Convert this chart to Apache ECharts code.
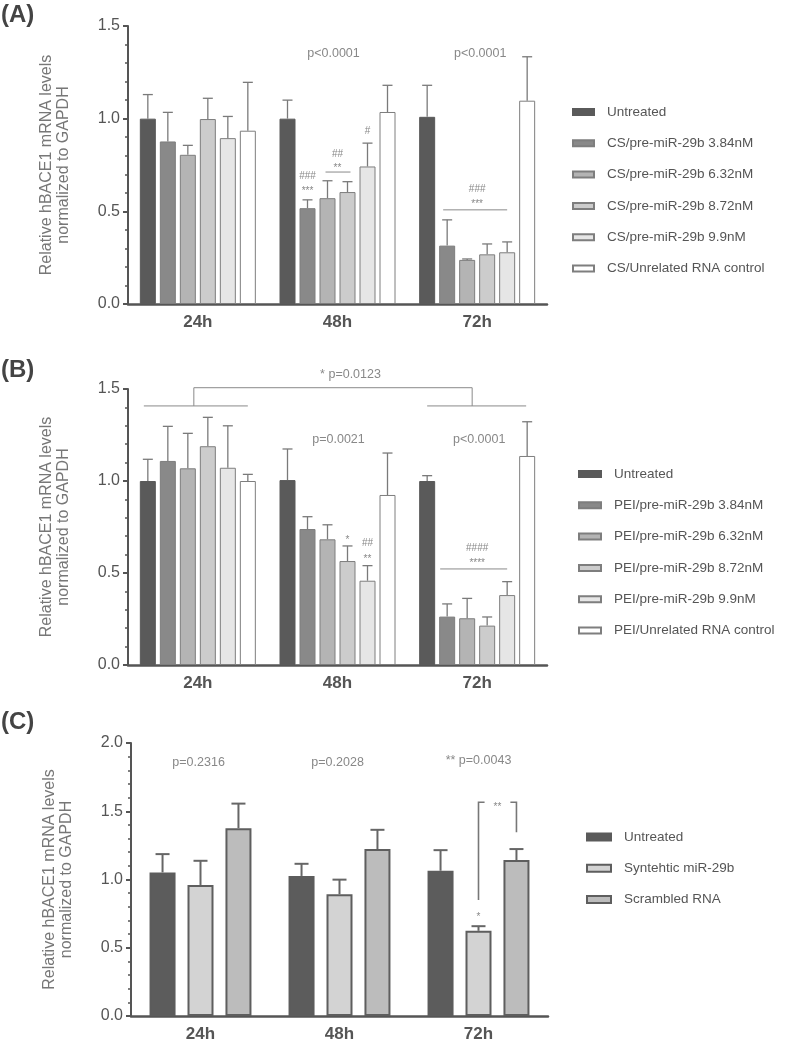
<!DOCTYPE html>
<html>
<head>
<meta charset="utf-8">
<script src="https://cdn.jsdelivr.net/npm/echarts@6/dist/echarts.min.js"></script>
<style>
  html, body { margin: 0; padding: 0; background: #fff; }
  #main { width: 787px; height: 1043px; }
</style>
</head>
<body>
<div id="main"></div>
<script>
// categories shared by all three panels
const categories = ['24h', '48h', '72h'];

// panel A - CS nanoparticles
const namesA = ['Untreated', 'CS/pre-miR-29b 3.84nM', 'CS/pre-miR-29b 6.32nM',
  'CS/pre-miR-29b 8.72nM', 'CS/pre-miR-29b 9.9nM', 'CS/Unrelated RNA control'];
const meanA = [
  [1.00, 1.00, 1.01],
  [0.877, 0.517, 0.315],
  [0.805, 0.571, 0.238],
  [0.998, 0.604, 0.268],
  [0.895, 0.742, 0.279],
  [0.935, 1.036, 1.097]
];
const sdA = [
  [0.13, 0.10, 0.17],
  [0.157, 0.045, 0.139],
  [0.051, 0.094, 0.005],
  [0.112, 0.056, 0.056],
  [0.117, 0.126, 0.056],
  [0.261, 0.144, 0.237]
];

// panel B - PEI
const namesB = ['Untreated', 'PEI/pre-miR-29b 3.84nM', 'PEI/pre-miR-29b 6.32nM',
  'PEI/pre-miR-29b 8.72nM', 'PEI/pre-miR-29b 9.9nM', 'PEI/Unrelated RNA control'];
const meanB = [
  [1.00, 1.005, 1.00],
  [1.109, 0.739, 0.263],
  [1.069, 0.683, 0.254],
  [1.189, 0.565, 0.214],
  [1.072, 0.458, 0.38],
  [1.00, 0.924, 1.136]
];
const sdB = [
  [0.118, 0.169, 0.029],
  [0.188, 0.067, 0.069],
  [0.19, 0.079, 0.108],
  [0.157, 0.082, 0.047],
  [0.228, 0.082, 0.073],
  [0.036, 0.228, 0.186]
];

// panel C - synthetic miRNA
const namesC = ['Untreated', 'Syntehtic miR-29b', 'Scrambled RNA'];
const meanC = [
  [1.052, 1.026, 1.064],
  [0.96, 0.892, 0.624],
  [1.376, 1.223, 1.142]
];
const sdC = [
  [0.134, 0.089, 0.151],
  [0.177, 0.107, 0.034],
  [0.18, 0.141, 0.081]
];

// annotation texts / lines: c = category, s = bar slot, v = y value
const notesA = [
  { t: 'p<0.0001', c: 1, s: 2.3, v: 1.35 },
  { t: 'p<0.0001', c: 2, s: 2.65, v: 1.35 },
  { t: '###', c: 1, s: 1, v: 0.69, k: 'small' },
  { t: '***', c: 1, s: 1, v: 0.61, k: 'small' },
  { t: '##', c: 1, s: 2.5, v: 0.81, k: 'small' },
  { t: '**', c: 1, s: 2.5, v: 0.735, k: 'small' },
  { t: '#', c: 1, s: 4, v: 0.93, k: 'small' },
  { t: '###', c: 2, s: 2.5, v: 0.62, k: 'small' },
  { t: '***', c: 2, s: 2.5, v: 0.54, k: 'small' }
];
const linesA = [
  [[1, 1.9, 0.712], [1, 3.15, 0.712]],
  [[2, 0.8, 0.508], [2, 4, 0.508]]
];
const notesB = [
  { t: '* p=0.0123', c: 1, s: 3.15, v: 1.576 },
  { t: 'p=0.0021', c: 1, s: 2.55, v: 1.223 },
  { t: 'p<0.0001', c: 2, s: 2.6, v: 1.223 },
  { t: '*', c: 1, s: 3, v: 0.68, k: 'small' },
  { t: '##', c: 1, s: 4, v: 0.663, k: 'small' },
  { t: '**', c: 1, s: 4, v: 0.575, k: 'small' },
  { t: '####', c: 2, s: 2.5, v: 0.636, k: 'small' },
  { t: '****', c: 2, s: 2.5, v: 0.553, k: 'small' }
];
const linesB = [
  [[0, -0.2, 1.408], [0, 5, 1.408]],
  [[2, 0, 1.408], [2, 4.95, 1.408]],
  [[0, 2.3, 1.408], [0, 2.3, 1.507], [2, 2.25, 1.507], [2, 2.25, 1.408]],
  [[2, 0.65, 0.522], [2, 4, 0.522]]
];
const notesC = [
  { t: 'p=0.2316', c: 0, s: 0.95, v: 1.858 },
  { t: 'p=0.2028', c: 1, s: 0.95, v: 1.858 },
  { t: '** p=0.0043', c: 2, s: 1, v: 1.872 },
  { t: '**', c: 2, s: 1.5, v: 1.53, k: 'small' },
  { t: '*', c: 2, s: 1, v: 0.72, k: 'small' }
];
const linesC = [
  [[2, 1.16, 1.566], [2, 1, 1.566], [2, 1, 0.85]],
  [[2, 1.84, 1.566], [2, 2, 1.566], [2, 2, 1.347]]
];

const colorsAB = ['#5a5a5a', '#898989', '#b4b4b4', '#cccccc', '#e6e6e6', '#ffffff'];
const colorsC = ['#5c5c5c', '#d3d3d3', '#bcbcbc'];

const panels = [
  { names: namesA, mean: meanA, sd: sdA, colors: colorsAB, max: 1.5,
    grid: { left: 128, top: 26, width: 419, height: 278 },
    barWidth: 16, gap: 0.25, border: '#7e7e7e', bw: 1, err: '#7a7a7a', ew: 1.3, cap: 5,
    legend: { left: 567, top: 100, w: 21, h: 6 }, notes: notesA, lines: linesA, label: '(A)', labelTop: 3 },
  { names: namesB, mean: meanB, sd: sdB, colors: colorsAB, max: 1.5,
    grid: { left: 128, top: 389, width: 419, height: 276 },
    barWidth: 16, gap: 0.25, border: '#7e7e7e', bw: 1, err: '#7a7a7a', ew: 1.3, cap: 5,
    legend: { left: 573, top: 462, w: 22, h: 6 }, notes: notesB, lines: linesB, label: '(B)', labelTop: 358 },
  { names: namesC, mean: meanC, sd: sdC, colors: colorsC, max: 2.0,
    grid: { left: 131, top: 743, width: 417, height: 274.5 },
    barWidth: 26, gap: 0.46, border: '#5e5e5e', bw: 2, err: '#666666', ew: 2, cap: 7,
    legend: { left: 581, top: 825, w: 24, h: 7 }, notes: notesC, lines: linesC, label: '(C)', labelTop: 710 }
];

const font = '"Liberation Sans", Arial, sans-serif';
const axisColor = '#555555';

let chart = echarts.init(document.getElementById('main'));

let grids = [], xAxes = [], yAxes = [], series = [], legends = [];

panels.forEach(function (p, g) {
  grids.push(p.grid);
  xAxes.push({
    type: 'category', gridIndex: g, data: categories,
    axisLine: { lineStyle: { color: axisColor, width: 2.5 } },
    axisTick: { alignWithLabel: true, length: 5, lineStyle: { color: axisColor, width: 2 } },
    axisLabel: { fontFamily: font, fontWeight: 'bold', fontSize: 17, color: axisColor, margin: 10 }
  });
  yAxes.push({
    type: 'value', gridIndex: g, min: 0, max: p.max, interval: 0.5,
    name: 'Relative hBACE1 mRNA levels\nnormalized to GAPDH',
    nameLocation: 'middle', nameGap: 56,
    nameTextStyle: { fontFamily: font, fontSize: 16, color: '#777', lineHeight: 17 },
    axisLine: { show: true, lineStyle: { color: axisColor, width: 2 } },
    axisTick: { show: true, length: 5, lineStyle: { color: axisColor, width: 2 } },
    minorTick: { show: true, splitNumber: 5, length: 3, lineStyle: { color: axisColor, width: 1.5 } },
    splitLine: { show: false },
    axisLabel: { fontFamily: font, fontSize: 16, color: axisColor, margin: 8,
      formatter: function (v) { return v.toFixed(1); } }
  });
  p.names.forEach(function (name, i) {
    series.push({
      type: 'bar', name: name, xAxisIndex: g, yAxisIndex: g,
      data: p.mean[i], barWidth: p.barWidth, barGap: (p.gap * 100) + '%',
      itemStyle: { color: p.colors[i], borderColor: i === 0 ? p.colors[0] : p.border, borderWidth: p.bw },
      emphasis: { disabled: true }
    });
  });
  // error bars (upper only)
  let errData = [];
  p.names.forEach(function (name, i) {
    for (let c = 0; c < categories.length; c++) errData.push([c, i, p.mean[i][c], p.sd[i][c]]);
  });
  const n = p.names.length, step = p.barWidth * (1 + p.gap);
  series.push({
    type: 'custom', name: 'err' + g, xAxisIndex: g, yAxisIndex: g, z: 3,
    encode: { x: 0, y: 2 }, data: errData, silent: true,
    renderItem: function (params, api) {
      const c = api.value(0), s = api.value(1), m = api.value(2), sd = api.value(3);
      const off = (s - (n - 1) / 2) * step;
      const p0 = api.coord([c, m]), p1 = api.coord([c, m + sd]);
      const x = p0[0] + off;
      const st = { stroke: p.err, lineWidth: p.ew };
      return { type: 'group', children: [
        { type: 'line', shape: { x1: x, y1: p0[1], x2: x, y2: p1[1] }, style: st },
        { type: 'line', shape: { x1: x - p.cap, y1: p1[1], x2: x + p.cap, y2: p1[1] }, style: st }
      ] };
    }
  });
  legends.push({
    orient: 'vertical', left: p.legend.left, top: p.legend.top,
    itemWidth: p.legend.w, itemHeight: p.legend.h, itemGap: 17.3,
    icon: 'rect', selectedMode: false, data: p.names,
    textStyle: { fontFamily: font, fontSize: 13.5, color: '#555', lineHeight: 14, padding: [0, 0, 0, 8] }
  });
});

chart.setOption({
  animation: false,
  grid: grids, xAxis: xAxes, yAxis: yAxes, series: series, legend: legends
});

// annotations placed from data coordinates
let graphics = [];
panels.forEach(function (p, g) {
  const n = p.names.length, step = p.barWidth * (1 + p.gap);
  const toPx = function (c, s, v) {
    const q = chart.convertToPixel({ xAxisIndex: g, yAxisIndex: g }, [c, v]);
    return [q[0] + (s - (n - 1) / 2) * step, q[1]];
  };
  p.notes.forEach(function (a) {
    const q = toPx(a.c, a.s, a.v);
    graphics.push({
      type: 'text', x: q[0], y: q[1],
      style: { text: a.t, fill: '#888', font: (a.k === 'small' ? '10px ' : '12.5px ') + font,
        align: 'center', verticalAlign: 'middle' }
    });
  });
  p.lines.forEach(function (pts) {
    graphics.push({
      type: 'polyline',
      shape: { points: pts.map(function (t) { return toPx(t[0], t[1], t[2]); }) },
      style: { stroke: g === 2 ? '#777' : '#8a8a8a', lineWidth: g === 2 ? 1.6 : 1, fill: null }
    });
  });
  graphics.push({
    type: 'text', left: 1, top: p.labelTop,
    style: { text: p.label, fill: '#444', font: 'bold 24px ' + font }
  });
});

chart.setOption({ graphic: graphics });
</script>
</body>
</html>
